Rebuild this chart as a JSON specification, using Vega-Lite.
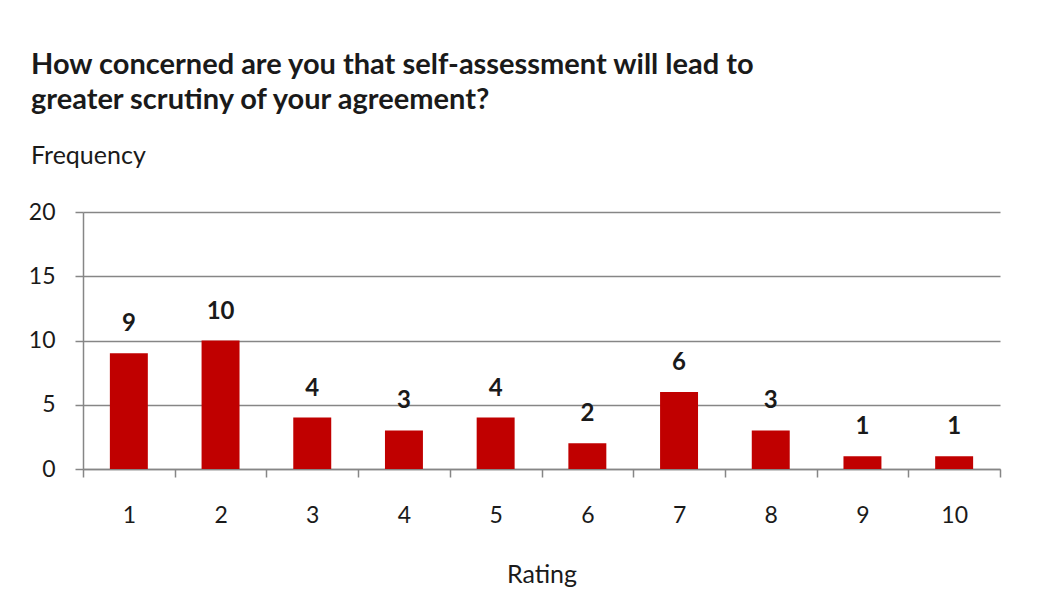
{
  "$schema": "https://vega.github.io/schema/vega-lite/v6.json",
  "autosize": "none",
  "width": 917,
  "height": 257,
  "padding": {"left": 83, "top": 212, "right": 49, "bottom": 128},
  "background": "white",
  "title": {
    "text": ["How concerned are you that self-assessment  will lead to", "greater scrutiny of your agreement?"],
    "subtitle": "Frequency",
    "anchor": "start",
    "frame": "group",
    "dx": -52,
    "offset": 32,
    "font": "Lato",
    "fontSize": 29,
    "fontWeight": "bold",
    "color": "#1a1a1a",
    "lineHeight": 35,
    "subtitleFont": "Lato",
    "subtitleFontSize": 25,
    "subtitleColor": "#1a1a1a",
    "subtitlePadding": 29
  },
  "data": {
    "values": [
      {"Rating": "1", "Frequency": 9},
      {"Rating": "2", "Frequency": 10},
      {"Rating": "3", "Frequency": 4},
      {"Rating": "4", "Frequency": 3},
      {"Rating": "5", "Frequency": 4},
      {"Rating": "6", "Frequency": 2},
      {"Rating": "7", "Frequency": 6},
      {"Rating": "8", "Frequency": 3},
      {"Rating": "9", "Frequency": 1},
      {"Rating": "10", "Frequency": 1}
    ]
  },
  "encoding": {
    "x": {
      "field": "Rating",
      "type": "ordinal",
      "sort": null,
      "scale": {"paddingInner": 0, "paddingOuter": 0},
      "axis": {
        "title": "Rating",
        "labelAngle": 0,
        "labelFont": "Lato",
        "labelFontSize": 23,
        "labelColor": "#1a1a1a",
        "labelPadding": 27,
        "tickBand": "extent",
        "tickSize": 8,
        "tickColor": "#868686",
        "tickWidth": 1.5,
        "domainColor": "#868686",
        "domainWidth": 1.5,
        "titleFont": "Lato",
        "titleFontSize": 25,
        "titleFontWeight": "normal",
        "titleColor": "#1a1a1a",
        "titlePadding": 35,
        "grid": false
      }
    },
    "y": {
      "field": "Frequency",
      "type": "quantitative",
      "scale": {"domain": [0, 20], "nice": false},
      "axis": {
        "title": null,
        "values": [0, 5, 10, 15, 20],
        "labelFont": "Lato",
        "labelFontSize": 23,
        "labelColor": "#1a1a1a",
        "labelPadding": 20,
        "tickSize": 8,
        "tickColor": "#868686",
        "tickWidth": 1.5,
        "domainColor": "#868686",
        "domainWidth": 1.5,
        "grid": true,
        "gridColor": "#868686",
        "gridWidth": 1.4
      }
    }
  },
  "layer": [
    {"mark": {"type": "bar", "color": "#C00000", "width": {"band": 0.414}}},
    {
      "mark": {"type": "text", "font": "Lato", "fontSize": 24, "fontWeight": "bold", "color": "#1a1a1a", "baseline": "alphabetic", "dy": -22},
      "encoding": {"text": {"field": "Frequency", "type": "quantitative"}}
    }
  ],
  "config": {"view": {"stroke": null}}
}
